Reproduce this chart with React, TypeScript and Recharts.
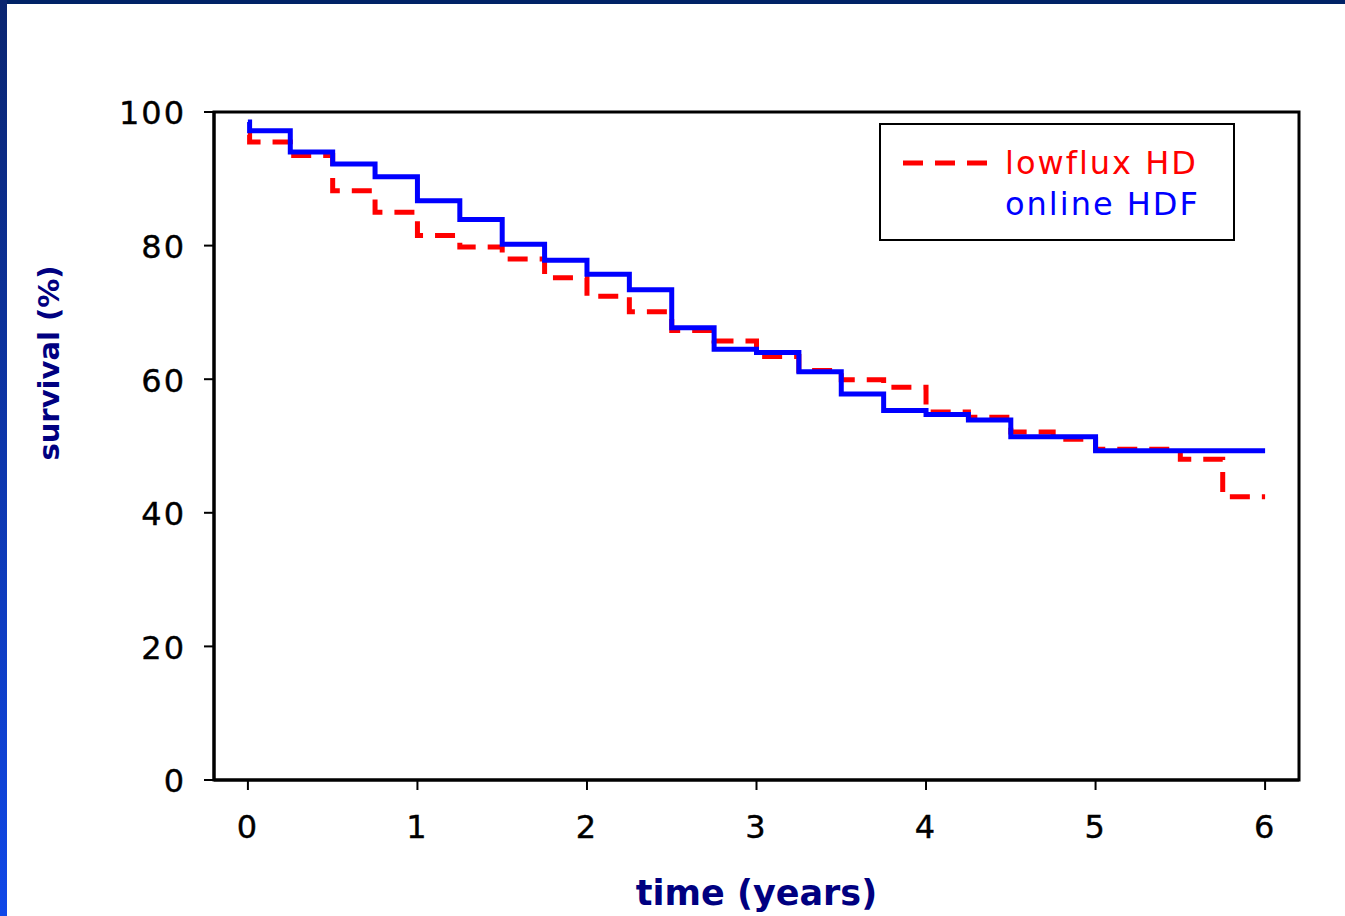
import { Line, LineChart, ReferenceArea, XAxis, YAxis } from "recharts";

const times = [0, 0.01, 0.25, 0.5, 0.75, 1, 1.25, 1.5, 1.75, 2, 2.25, 2.5, 2.75, 3, 3.25, 3.5, 3.75, 4, 4.25, 4.5, 4.75, 5, 5.25, 5.5, 5.75, 6];
const onlineHdf = [98.5, 97.2, 94.0, 92.2, 90.3, 86.7, 83.9, 80.2, 77.8, 75.7, 73.4, 67.7, 64.5, 64.0, 61.1, 57.8, 55.3, 54.7, 53.9, 51.4, 51.4, 49.3, 49.3, 49.3, 49.3, 49.3];
const lowfluxHd = [96.6, 95.5, 93.5, 88.2, 85.0, 81.5, 79.8, 78.0, 75.2, 72.4, 70.1, 67.3, 65.7, 63.4, 61.3, 59.9, 58.8, 55.1, 54.3, 52.1, 51.0, 49.5, 49.5, 48.0, 42.4, 42.4];
const xTicks = [0, 1, 2, 3, 4, 5, 6];
const yTicks = [0, 20, 40, 60, 80, 100];

const hdfData = times.map((t, i) => ({ t, v: onlineHdf[i] }));
const hdData = times.map((t, i) => ({ t, v: lowfluxHd[i] }));

const tickFont = { fontFamily: "DejaVu Sans", fontSize: 32, fill: "#000", letterSpacing: 2, stroke: "#000", strokeWidth: 0.4 };
const titleFont = { fontFamily: "DejaVu Sans", fontWeight: 700, fill: "#000080" };

function LegendBox() {
  return (
    <div
      style={{
        position: "absolute",
        left: 879,
        top: 123,
        width: 356,
        height: 118,
        border: "2px solid #000",
        background: "#fff",
        boxSizing: "border-box",
        fontFamily: "DejaVu Sans",
        fontSize: 32,
        letterSpacing: 2,
        lineHeight: "38px",
      }}
    >
      <svg width={90} height={10} style={{ position: "absolute", left: 20, top: 33 }}>
        <line x1={2} y1={5} x2={88} y2={5} stroke="#ff0000" strokeWidth={5} strokeDasharray="20 12" />
      </svg>
      <div style={{ position: "absolute", left: 124, top: 19, color: "#ff0000" }}>lowflux HD</div>
      <div style={{ position: "absolute", left: 124, top: 60, color: "#0000ff" }}>online HDF</div>
    </div>
  );
}

export default function App() {
  return (
    <div style={{ position: "absolute", left: 0, top: 0, width: 1345, height: 916, background: "#fff", overflow: "hidden" }}>
      <div style={{ position: "absolute", left: 0, top: 0 }}>
        <LineChart width={1345} height={916} margin={{ top: 112, right: 46, bottom: 0, left: 134 }}>
          <XAxis
            dataKey="t"
            type="number"
            domain={[-0.2, 6.2]}
            ticks={xTicks}
            allowDataOverflow
            height={136}
            axisLine={{ stroke: "#000", strokeWidth: 3 }}
            tickLine={{ stroke: "#000", strokeWidth: 2 }}
            tickSize={10}
            tick={{ ...tickFont, dy: 23 }}
            label={(props: any) => {
              const vb = props.viewBox;
              return (
                <text x={vb.x + vb.width / 2} y={vb.y + 125} textAnchor="middle" fontSize={35} {...titleFont}>
                  time (years)
                </text>
              );
            }}
          />
          <YAxis
            type="number"
            domain={[0, 100]}
            ticks={yTicks}
            width={80}
            axisLine={{ stroke: "#000", strokeWidth: 3 }}
            tickLine={{ stroke: "#000", strokeWidth: 2 }}
            tickSize={10}
            tick={{ ...tickFont, dx: -16, dy: 1 }}
            label={() => (
              <text x={59} y={363} textAnchor="middle" fontSize={29} transform="rotate(-90 59 363)" {...titleFont}>
                survival (%)
              </text>
            )}
          />
          <ReferenceArea x1={-0.2} x2={6.2} y1={0} y2={100} fill="none" stroke="#000" strokeWidth={3} ifOverflow="visible" />
          <Line
            data={hdData}
            dataKey="v"
            type="stepAfter"
            stroke="#ff0000"
            strokeWidth={5}
            strokeDasharray="20 12"
            dot={false}
            isAnimationActive={false}
          />
          <Line
            data={hdfData}
            dataKey="v"
            type="stepAfter"
            stroke="#0000ff"
            strokeWidth={5}
            dot={false}
            isAnimationActive={false}
          />
        </LineChart>
      </div>
      <LegendBox />
      <div style={{ position: "absolute", left: 0, top: 0, width: 1345, height: 4, background: "#002266" }} />
      <div
        style={{
          position: "absolute",
          left: 0,
          top: 0,
          width: 7,
          height: 916,
          background: "linear-gradient(#0a2570, #1048e8)",
        }}
      />
    </div>
  );
}
